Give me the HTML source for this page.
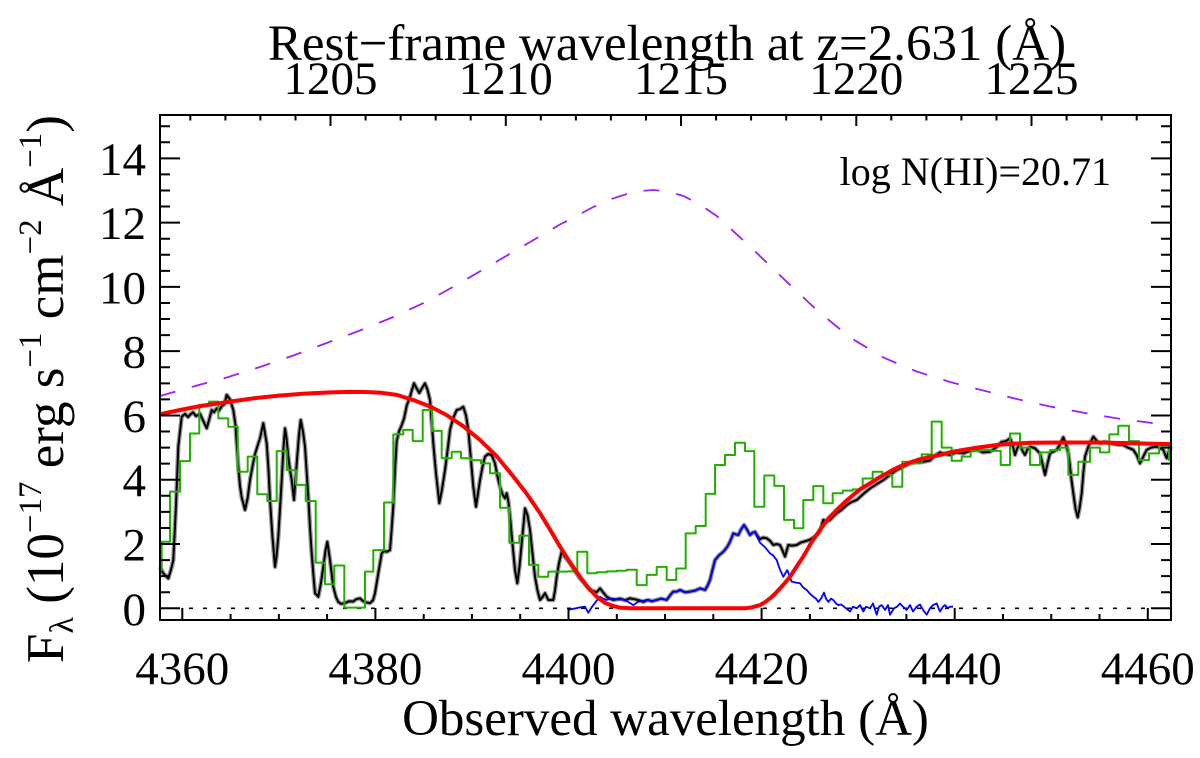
<!DOCTYPE html>
<html>
<head>
<meta charset="utf-8">
<style>
html,body{margin:0;padding:0;background:#fff;}
svg{display:block;}
text{font-family:"Liberation Serif","Times New Roman",serif;fill:#000;}
</style>
</head>
<body>
<svg width="1200" height="758" viewBox="0 0 1200 758" xmlns="http://www.w3.org/2000/svg">
<rect x="0" y="0" width="1200" height="758" fill="#fff"/>

<!-- dotted zero line -->
<line x1="161" y1="608.3" x2="1170" y2="608.3" stroke="#000" stroke-width="1.6" stroke-dasharray="4 10"/>

<g transform="translate(0,608.3) scale(1,-32.14)" fill="none" stroke-linejoin="round">
<!-- black spectrum with gray error halo -->
<polyline vector-effect="non-scaling-stroke" stroke="#9a9a9a" stroke-width="4.5" points="160,1.29 163,1.1 168.3,0.93 171,1.2 173.3,1.5 176,3.2 178.3,5.03 181.7,5.96 185,6.05 188,5.95 190,6.02 193,6.1 196,5.98 200,6.05 203,5.85 206.7,5.6 209,5.85 211.7,6.17 214,6.1 216.7,6.22 219,6.15 222,6.3 224.5,6.35 226.7,6.64 230,6.5 233.3,6.17 235.5,5.7 237,5.0 238.3,4.4 240,3.8 241.7,3.45 245,3.06 247.5,3.4 250,3.99 253,4.5 255,4.8 258,5.1 260,5.29 263.3,5.76 266.7,5.13 268.5,4.3 270,3.37 272.5,2.2 275,1.29 276.5,1.6 278.3,2.23 280,3.1 281.7,3.99 283.5,5.0 285,5.6 286.5,5.3 288.3,4.72 290,4.3 291.7,3.99 294,3.37 296.7,4.51 299,5.4 300.7,5.86 303,5.5 305,5.03 308.3,3.47 310,2.5 311.7,1.71 313.5,1.0 315,0.47 318.3,0.36 321,0.8 323.3,1.29 325.5,1.8 327.3,2.07 330,1.5 333.3,0.67 336,0.35 338.3,0.2 341,0.14 345,0.16 349,0.22 353.3,0.21 356,0.28 360,0.31 362,0.25 365,0.19 370,0.16 373,0.25 375,0.47 378.3,1.09 381.7,1.71 384,1.78 386.7,1.76 390,1.81 391.5,2.4 393.3,3.2 395,4.3 396.7,5.2 399,5.5 401.7,5.7 404,5.9 406.7,6.3 410,6.58 412,6.8 414,7.0 416.5,6.85 419.3,6.7 422,6.85 425,7.0 427.5,6.8 430,6.48 433.3,5.13 436,4.2 439.3,3.27 442,3.7 445,4.3 447.5,4.9 450,5.55 453,5.9 456.7,6.17 460,6.2 463.3,6.27 466,6.0 468.3,5.55 471,4.6 473.3,3.78 476,3.16 480,3.99 482.5,4.4 485,4.72 488,4.8 491.7,4.77 495,4.51 497.5,4.1 500,3.78 502.5,3.55 505,3.42 506.7,3.58 508.5,3.3 510,2.85 512.5,2.0 515,1.19 517.3,0.78 519.5,1.3 521.7,2.02 523.5,2.6 525,3.11 527.5,2.9 530,2.44 532.5,1.7 535,0.98 537.5,0.55 540,0.26 542.5,0.35 545,0.47 548.3,0.26 553.3,0.26 555,0.55 556.7,0.98 559,1.4 561.7,1.76 565,1.6 570,1.4 575,1.15 580,0.93 585,0.75 590,0.57 596.7,0.5 600,0.62 603,0.5 606.7,0.36 610,0.3 613.3,0.26 620,0.3 625,0.25 630,0.31 635,0.28 640,0.24 643.3,0.2 648,0.26 652,0.22 656.7,0.26 661,0.3 666.7,0.26 670,0.4 673.3,0.52 676.7,0.52 680,0.57 685,0.5 690,0.52 695,0.55 700,0.62 705,0.57 707.5,0.7 710,0.88 712.5,1.2 715,1.5 719,1.65 723.3,1.76 727,1.9 730,2.07 733.3,2.33 736,2.3 738.3,2.28 741,2.45 744,2.59 747,2.45 750,2.28 752.5,2.35 755,2.38 757.5,2.25 760,2.15 763,2.2 766.7,2.18 770,2.1 773.3,1.97 776.5,2.0 780,1.97 782.5,1.8 785,1.61 788.3,1.97 792,1.95 796.7,1.97 801,2.05 806.7,2.1 811,2.15 816.7,2.28 820,2.4 823.3,2.75 826.5,2.7 830,2.75 833,2.85 836.7,2.96 841,3.05 846.7,3.21 851,3.3 856.7,3.37 863,3.55 870,3.73 876,3.85 883.3,3.99 890,4.15 896.7,4.3 903,4.4 910,4.51 916,4.55 923.3,4.56 930,4.6 935,4.75 940,4.85 945,4.8 950,4.77 956,4.85 963.3,4.82 970,4.9 976.7,4.93 983,4.85 990,4.87 996,5.0 1001.7,5.18 1006,5.2 1010,5.29 1012.5,5.1 1015,4.77 1017.5,5.0 1020,5.08 1022.5,4.9 1025,4.77 1027.5,4.95 1030,5.03 1035,4.98 1040,4.82 1042.5,4.5 1045,4.15 1047.5,4.5 1050,4.82 1056.7,4.93 1060,5.1 1063.3,5.32 1066.7,5.03 1068.5,4.8 1070,4.41 1071.5,4.0 1073.3,3.58 1075.5,3.1 1077.7,2.83 1079.5,3.1 1081.7,3.58 1083.3,4.2 1085,4.72 1088.3,5.03 1093.3,5.34 1097,5.2 1100,5.13 1105,5.18 1110,5.13 1116,5.1 1123.3,5.08 1128,5.0 1133.3,4.93 1137,4.75 1140,4.51 1143,4.7 1146.7,4.93 1151,5.0 1156.7,5.03 1160,4.98 1163.3,4.93 1166.7,4.67 1168.5,4.85 1171,5.03"/>
<polyline vector-effect="non-scaling-stroke" stroke="#000" stroke-width="2" points="160,1.29 163,1.1 168.3,0.93 171,1.2 173.3,1.5 176,3.2 178.3,5.03 181.7,5.96 185,6.05 188,5.95 190,6.02 193,6.1 196,5.98 200,6.05 203,5.85 206.7,5.6 209,5.85 211.7,6.17 214,6.1 216.7,6.22 219,6.15 222,6.3 224.5,6.35 226.7,6.64 230,6.5 233.3,6.17 235.5,5.7 237,5.0 238.3,4.4 240,3.8 241.7,3.45 245,3.06 247.5,3.4 250,3.99 253,4.5 255,4.8 258,5.1 260,5.29 263.3,5.76 266.7,5.13 268.5,4.3 270,3.37 272.5,2.2 275,1.29 276.5,1.6 278.3,2.23 280,3.1 281.7,3.99 283.5,5.0 285,5.6 286.5,5.3 288.3,4.72 290,4.3 291.7,3.99 294,3.37 296.7,4.51 299,5.4 300.7,5.86 303,5.5 305,5.03 308.3,3.47 310,2.5 311.7,1.71 313.5,1.0 315,0.47 318.3,0.36 321,0.8 323.3,1.29 325.5,1.8 327.3,2.07 330,1.5 333.3,0.67 336,0.35 338.3,0.2 341,0.14 345,0.16 349,0.22 353.3,0.21 356,0.28 360,0.31 362,0.25 365,0.19 370,0.16 373,0.25 375,0.47 378.3,1.09 381.7,1.71 384,1.78 386.7,1.76 390,1.81 391.5,2.4 393.3,3.2 395,4.3 396.7,5.2 399,5.5 401.7,5.7 404,5.9 406.7,6.3 410,6.58 412,6.8 414,7.0 416.5,6.85 419.3,6.7 422,6.85 425,7.0 427.5,6.8 430,6.48 433.3,5.13 436,4.2 439.3,3.27 442,3.7 445,4.3 447.5,4.9 450,5.55 453,5.9 456.7,6.17 460,6.2 463.3,6.27 466,6.0 468.3,5.55 471,4.6 473.3,3.78 476,3.16 480,3.99 482.5,4.4 485,4.72 488,4.8 491.7,4.77 495,4.51 497.5,4.1 500,3.78 502.5,3.55 505,3.42 506.7,3.58 508.5,3.3 510,2.85 512.5,2.0 515,1.19 517.3,0.78 519.5,1.3 521.7,2.02 523.5,2.6 525,3.11 527.5,2.9 530,2.44 532.5,1.7 535,0.98 537.5,0.55 540,0.26 542.5,0.35 545,0.47 548.3,0.26 553.3,0.26 555,0.55 556.7,0.98 559,1.4 561.7,1.76 565,1.6 570,1.4 575,1.15 580,0.93 585,0.75 590,0.57 596.7,0.5 600,0.62 603,0.5 606.7,0.36 610,0.3 613.3,0.26 620,0.3 625,0.25 630,0.31 635,0.28 640,0.24 643.3,0.2 648,0.26 652,0.22 656.7,0.26 661,0.3 666.7,0.26 670,0.4 673.3,0.52 676.7,0.52 680,0.57 685,0.5 690,0.52 695,0.55 700,0.62 705,0.57 707.5,0.7 710,0.88 712.5,1.2 715,1.5 719,1.65 723.3,1.76 727,1.9 730,2.07 733.3,2.33 736,2.3 738.3,2.28 741,2.45 744,2.59 747,2.45 750,2.28 752.5,2.35 755,2.38 757.5,2.25 760,2.15 763,2.2 766.7,2.18 770,2.1 773.3,1.97 776.5,2.0 780,1.97 782.5,1.8 785,1.61 788.3,1.97 792,1.95 796.7,1.97 801,2.05 806.7,2.1 811,2.15 816.7,2.28 820,2.4 823.3,2.75 826.5,2.7 830,2.75 833,2.85 836.7,2.96 841,3.05 846.7,3.21 851,3.3 856.7,3.37 863,3.55 870,3.73 876,3.85 883.3,3.99 890,4.15 896.7,4.3 903,4.4 910,4.51 916,4.55 923.3,4.56 930,4.6 935,4.75 940,4.85 945,4.8 950,4.77 956,4.85 963.3,4.82 970,4.9 976.7,4.93 983,4.85 990,4.87 996,5.0 1001.7,5.18 1006,5.2 1010,5.29 1012.5,5.1 1015,4.77 1017.5,5.0 1020,5.08 1022.5,4.9 1025,4.77 1027.5,4.95 1030,5.03 1035,4.98 1040,4.82 1042.5,4.5 1045,4.15 1047.5,4.5 1050,4.82 1056.7,4.93 1060,5.1 1063.3,5.32 1066.7,5.03 1068.5,4.8 1070,4.41 1071.5,4.0 1073.3,3.58 1075.5,3.1 1077.7,2.83 1079.5,3.1 1081.7,3.58 1083.3,4.2 1085,4.72 1088.3,5.03 1093.3,5.34 1097,5.2 1100,5.13 1105,5.18 1110,5.13 1116,5.1 1123.3,5.08 1128,5.0 1133.3,4.93 1137,4.75 1140,4.51 1143,4.7 1146.7,4.93 1151,5.0 1156.7,5.03 1160,4.98 1163.3,4.93 1166.7,4.67 1168.5,4.85 1171,5.03"/>

<!-- green histogram -->
<path vector-effect="non-scaling-stroke" stroke="#22b000" stroke-width="2" d="M161 1.19 H161.7 V2.07 H170 V3.63 H180 V4.58 H190 V5.44 H199.3 V6.33 H209 V6.43 H218.3 V5.91 H228.3 V5.65 H237.7 V4.25 H247.7 V4.72 H257.3 V3.55 H267.3 V3.34 H276.7 V4.89 H286.7 V4.30 H296 V3.84 H305.7 V3.34 H315.7 V1.42 H325 V0.75 H334.3 V1.33 H344.3 V0.02 H365 V1.14 H373.3 V1.81 H384 V3.29 H393.3 V5.41 H403.3 V5.55 H412.7 V5.2 H422.7 V6.17 H432 V5.52 H441.7 V4.67 H451.7 V4.87 H461 V4.67 H470.7 V4.61 H481 V4.51 H490 V4.2 H500 V3.13 H509.3 V2.04 H519.3 V2.26 H529 V1.35 H538.3 V0.98 H548.3 V1.14 H558.3 V1.14 H567.7 V1.15 H577.3 V1.76 H587.3 V1.09 H596.7 V1.12 H606.7 V1.15 H616.7 V1.17 H626.7 V1.2 H636.7 V0.72 H646.7 V1.04 H656.7 V1.29 H666.7 V0.88 H676.3 V1.24 H685.7 V2.33 H695.7 V2.56 H705.7 V3.56 H715 V4.46 H725 V4.77 H735 V5.15 H745 V4.89 H754.3 V3.16 H764.3 V4.13 H774.3 V3.81 H784 V2.75 H794 V2.49 H803.3 V3.37 H813.3 V3.8 H823.3 V3.27 H832.7 V3.58 H842.7 V3.66 H852.7 V3.7 H862.7 V4.04 H872.7 V4.25 H882.3 V4.15 H892.3 V3.78 H902.3 V4.56 H912.3 V4.51 H921.7 V4.79 H931.7 V5.81 H941.7 V5.0 H951.7 V4.59 H961.7 V4.72 H970.7 V4.9 H980.7 V4.93 H990.7 V4.9 H1000.7 V4.46 H1010 V5.44 H1020 V5.0 H1030 V4.46 H1040 V4.85 H1050 V4.92 H1060 V5.0 H1068.3 V4.15 H1078.3 V4.56 H1090 V5.0 H1100 V4.85 H1109.3 V5.41 H1118.3 V5.68 H1129 V5.2 H1139 V4.61 H1149 V4.82 H1159 V5.07 H1169 V4.61 H1170"/>

<!-- blue -->
<polyline vector-effect="non-scaling-stroke" stroke="#0000ff" stroke-width="1.8" points="568.3,-0.05 572,-0.02 576,0.0 580,0.03 585,0.05 588.3,-0.14 591,0.0 593.3,0.1 597,0.25 600,0.36 603,0.3 606.7,0.26 610,0.3 613.3,0.3 618,0.27 623.3,0.28 628,0.2 633.3,0.1 638,0.2 646.7,0.26 652,0.22 656.7,0.26 661,0.3 666.7,0.26 670,0.4 673.3,0.52 676.7,0.52 680,0.57 685,0.5 690,0.52 695,0.55 700,0.62 705,0.57 707.5,0.7 710,0.88 712.5,1.2 715,1.5 719,1.65 723.3,1.76 727,1.9 730,2.07 733.3,2.33 736,2.3 738.3,2.28 741,2.45 744,2.59 747,2.45 750,2.28 752.5,2.35 755,2.38 757.5,2.2 760,2.04 765,1.9 770,1.71 773,1.65 776.7,1.5 780,1.2 783.3,0.98 785.5,1.1 787.3,1.19 789.5,1.0 791.7,0.83 796,0.8 800,0.78 803,0.65 806.7,0.57 810,0.45 813.3,0.36 816,0.3 818.3,0.2 821,0.3 824,0.49 826,0.3 828.3,0.2 831,0.3 833.3,0.26 836,0.15 838.3,0.1 841,0.12 843.3,0.07 846,0.0 850,-0.1 853,0.05 856.7,0.0 860,0.1 863.3,-0.1 866,0.05 870,0.0 873,0.15 876.7,-0.2 879,0.05 881.7,0.1 885,-0.05 888,0.1 890,-0.2 894,0.0 897,0.05 900,0.15 903,0.05 906.7,-0.05 910,0.1 913,-0.1 916.7,0.05 920,0.12 923,-0.05 926.7,-0.2 930,0.0 933,0.1 936.7,0.15 940,-0.1 943,0.05 945,0.1 948,0.0 950,0.05 953,0.05"/>

<!-- red model -->
<polyline vector-effect="non-scaling-stroke" stroke="#ff0000" stroke-width="4" stroke-linecap="butt" points="160,6.04 180,6.17 200,6.29 230,6.43 255,6.54 280,6.62 305,6.68 330,6.72 350,6.735 365,6.73 380,6.71 396.7,6.64 413.3,6.48 430,6.28 446.7,6.01 463,5.67 480,5.24 497,4.72 513.3,4.1 527,3.55 540,2.96 550,2.45 560,1.92 570,1.43 580,0.98 588,0.65 596.7,0.36 605,0.17 613.3,0.07 620,0.02 630,0.0 745,0.0 752,0.03 760,0.1 765,0.19 770,0.31 775,0.45 780,0.62 785,0.79 790,0.98 796,1.27 803.3,1.61 811,2.03 820,2.44 828,2.78 836.7,3.06 845,3.31 853.3,3.53 861,3.72 870,3.89 878,4.05 886.7,4.2 895,4.34 903.3,4.46 912,4.56 920,4.64 930,4.71 940,4.77 951,4.86 963.3,4.93 980,5.01 996.7,5.08 1013,5.12 1030,5.15 1060,5.16 1100,5.16 1140,5.13 1170,5.11"/>

<!-- left/right y ticks -->
<path vector-effect="non-scaling-stroke" stroke="#000" stroke-width="2" d="M160 0H180M160 2H180M160 4H180M160 6H180M160 8H180M160 10H180M160 12H180M160 14H180M1171 0H1151M1171 2H1151M1171 4H1151M1171 6H1151M1171 8H1151M1171 10H1151M1171 12H1151M1171 14H1151"/>
<path vector-effect="non-scaling-stroke" stroke="#000" stroke-width="2" d="M160 0.5H170M160 1H170M160 1.5H170M160 2.5H170M160 3H170M160 3.5H170M160 4.5H170M160 5H170M160 5.5H170M160 6.5H170M160 7H170M160 7.5H170M160 8.5H170M160 9H170M160 9.5H170M160 10.5H170M160 11H170M160 11.5H170M160 12.5H170M160 13H170M160 13.5H170M160 14.5H170M160 15H170M1171 0.5H1161M1171 1H1161M1171 1.5H1161M1171 2.5H1161M1171 3H1161M1171 3.5H1161M1171 4.5H1161M1171 5H1161M1171 5.5H1161M1171 6.5H1161M1171 7H1161M1171 7.5H1161M1171 8.5H1161M1171 9H1161M1171 9.5H1161M1171 10.5H1161M1171 11H1161M1171 11.5H1161M1171 12.5H1161M1171 13H1161M1171 13.5H1161M1171 14.5H1161M1171 15H1161"/>
</g>

<!-- purple dashed -->
<polyline fill="none" stroke="#a020f0" stroke-width="1.8" stroke-dasharray="16 17" points="160,396 193.3,386.5 226.7,377.5 260,367 293.3,355.5 326.7,343 360,330.5 393.3,317 426.7,301.5 460,283 493.3,263.5 526.7,244 560,224.5 593.3,207 610,199.5 626.7,194 640,191 653.3,190 668,191.5 683.3,196 700,204.5 716.7,216 750,246.5 783.3,278.5 816.7,310 850,337.5 883.3,357.5 916.7,371.5 950,382 983.3,390.5 1016.7,399 1050,406.5 1085,413 1118,418.5 1152,423 1171,425.5"/>

<!-- bottom ticks -->
<path fill="none" stroke="#000" stroke-width="2" d="M182.3 620v-12M375.4 620v-12M568.5 620v-12M761.6 620v-12M954.7 620v-12M1147.8 620v-12M230.6 620v-6M278.85 620v-6M327.1 620v-6M423.7 620v-6M471.95 620v-6M520.2 620v-6M616.8 620v-6M665.05 620v-6M713.3 620v-6M809.9 620v-6M858.15 620v-6M906.4 620v-6M1003 620v-6M1051.25 620v-6M1099.5 620v-6"/>
<!-- top ticks -->
<path fill="none" stroke="#000" stroke-width="2" d="M330.5 115v11M505.8 115v11M681 115v11M856.3 115v11M1031.5 115v11M190.3 115v5.5M225.4 115v5.5M260.4 115v5.5M295.5 115v5.5M365.6 115v5.5M400.6 115v5.5M435.7 115v5.5M470.7 115v5.5M540.8 115v5.5M575.9 115v5.5M610.9 115v5.5M646 115v5.5M716.1 115v5.5M751.1 115v5.5M786.2 115v5.5M821.2 115v5.5M891.3 115v5.5M926.4 115v5.5M961.4 115v5.5M996.5 115v5.5M1066.6 115v5.5M1101.6 115v5.5M1136.7 115v5.5"/>

<!-- plot box -->
<rect x="160" y="115" width="1011" height="505" fill="none" stroke="#000" stroke-width="2"/>

<!-- y tick labels -->
<g font-size="47" text-anchor="end">
<text x="146" y="624.8">0</text>
<text x="146" y="560.5">2</text>
<text x="146" y="496.2">4</text>
<text x="146" y="432">6</text>
<text x="146" y="367.7">8</text>
<text x="146" y="303.4">10</text>
<text x="146" y="239.1">12</text>
<text x="146" y="174.8">14</text>
</g>

<!-- bottom tick labels -->
<g font-size="47" text-anchor="middle">
<text x="182.3" y="684">4360</text>
<text x="375.4" y="684">4380</text>
<text x="568.5" y="684">4400</text>
<text x="761.6" y="684">4420</text>
<text x="954.7" y="684">4440</text>
<text x="1147.8" y="684">4460</text>
</g>

<!-- top tick labels -->
<g font-size="47" text-anchor="middle">
<text x="330.5" y="94">1205</text>
<text x="505.8" y="94">1210</text>
<text x="681" y="94">1215</text>
<text x="856.3" y="94">1220</text>
<text x="1031.5" y="94">1225</text>
</g>

<!-- titles -->
<text x="667" y="60" font-size="51" text-anchor="middle">Rest−frame wavelength at z=2.631 (Å)</text>
<text x="665.5" y="735" font-size="51" text-anchor="middle">Observed wavelength (Å)</text>
<text transform="translate(63,663) rotate(-90)" font-size="53">F<tspan font-size="34" dy="10">λ</tspan><tspan dy="-10"> (10</tspan><tspan font-size="33" dy="-22">−17</tspan><tspan dy="22"> erg s</tspan><tspan font-size="33" dy="-22">−1</tspan><tspan dy="22"> cm</tspan><tspan font-size="33" dy="-22">−2</tspan><tspan dy="22"> Å</tspan><tspan font-size="33" dy="-22">−1</tspan><tspan dy="22">)</tspan></text>

<text x="1111" y="185" font-size="40" text-anchor="end">log N(HI)=20.71</text>
</svg>
</body>
</html>
